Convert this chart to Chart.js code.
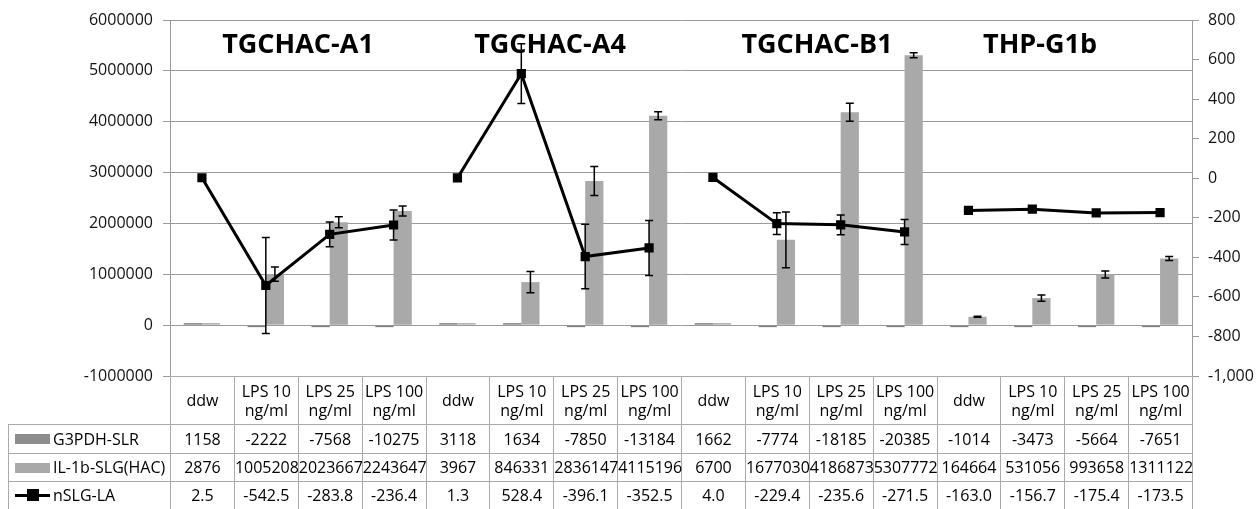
<!DOCTYPE html>
<html>
<head>
<meta charset="utf-8">
<script src="https://cdn.jsdelivr.net/npm/chart.js@4.4.1/dist/chart.umd.min.js"></script>
<style>
  body { margin: 0; background: #fff; }
  #wrap { position: relative; width: 1258px; height: 509px; overflow: hidden; }
  #chart { position: absolute; left: 0; top: 0; }
  #dataTable {
    position: absolute; left: 8px; top: 376px;
    border-collapse: collapse; table-layout: fixed; width: 1184px;
    font: 16px "Open Sans", sans-serif; color: #000;
  }
  #dataTable td {
    border: 1px solid #aaa; text-align: center; white-space: nowrap;
    padding: 0; overflow: visible; line-height: 19px;
  }
  #dataTable td.blank { border: none; border-right: 1px solid #aaa; }
  #dataTable td.name { text-align: left; padding-left: 6px; }
  .sw { display: inline-block; width: 35px; height: 10px; vertical-align: middle; margin-right: 3px; position: relative; top: -1px; }
  .sw.line { height: 3px; background: #000; }
  .sw.line i { position: absolute; left: 12px; top: -5px; width: 12px; height: 12px; background: #000; }
</style>
</head>
<body>
<div id="wrap">
  <canvas id="chart" width="1258" height="509"></canvas>
  <table id="dataTable"></table>
</div>
<script>
/* ===== DATA ===== */
const groups = ["TGCHAC-A1", "TGCHAC-A4", "TGCHAC-B1", "THP-G1b"];
const doses = [["ddw"], ["LPS 10", "ng/ml"], ["LPS 25", "ng/ml"], ["LPS 100", "ng/ml"]];

const g3pdh = [1158, -2222, -7568, -10275, 3118, 1634, -7850, -13184, 1662, -7774, -18185, -20385, -1014, -3473, -5664, -7651];
const il1b = [2876, 1005208, 2023667, 2243647, 3967, 846331, 2836147, 4115196, 6700, 1677030, 4186873, 5307772, 164664, 531056, 993658, 1311122];
const nslg = [2.5, -542.5, -283.8, -236.4, 1.3, 528.4, -396.1, -352.5, 4.0, -229.4, -235.6, -271.5, -163.0, -156.7, -175.4, -173.5];

// error bars
const il1bErr = [0, 140000, 110000, 100000, 0, 207000, 285000, 79000, 0, 550000, 177000, 50000, 10000, 60000, 69000, 40000];
const nslgErr = [0, 243, 63, 76, 0, 151, 163, 139, 0, 55, 50, 63, 0, 0, 0, 0];

const leftTicks = { min: -1000000, max: 6000000, step: 1000000 };
const rightTicks = { min: -1000, max: 800, step: 200 };

const labels = [];
groups.forEach(() => doses.forEach(d => labels.push(d)));

/* ===== PLUGINS ===== */
const titleX = [298, 550, 817, 1040];
const groupTitles = {
  id: "groupTitles",
  beforeDatasetsDraw(chart) {
    const ctx = chart.ctx;
    ctx.save();
    ctx.font = "bold 27px 'Open Sans', sans-serif";
    ctx.fillStyle = "#000";
    ctx.textAlign = "center";
    ctx.textBaseline = "middle";
    groups.forEach((g, i) => ctx.fillText(g, titleX[i], 45));
    ctx.restore();
  }
};

const errorBars = {
  id: "errorBars",
  afterDatasetsDraw(chart) {
    const ctx = chart.ctx;
    chart.data.datasets.forEach((ds, di) => {
      if (!ds.errors) return;
      const meta = chart.getDatasetMeta(di);
      const scale = chart.scales[meta.yAxisID];
      ctx.save();
      ctx.strokeStyle = "#000";
      ctx.lineWidth = 1.5;
      meta.data.forEach((el, i) => {
        const e = ds.errors[i];
        if (!e) return;
        const v = ds.data[i];
        const t = scale.getPixelForValue(v + e);
        const b = scale.getPixelForValue(v - e);
        ctx.beginPath();
        ctx.moveTo(el.x, t); ctx.lineTo(el.x, b);
        ctx.moveTo(el.x - 4, t); ctx.lineTo(el.x + 4, t);
        ctx.moveTo(el.x - 4, b); ctx.lineTo(el.x + 4, b);
        ctx.stroke();
      });
      ctx.restore();
    });
  }
};

/* ===== CHART ===== */
const tickFont = { family: "'Open Sans', sans-serif", size: 16 };
const gridColor = "#9a9a9a";

new Chart(document.getElementById("chart"), {
  type: "bar",
  data: {
    labels,
    datasets: [
      {
        type: "line", label: "nSLG-LA", data: nslg, errors: nslgErr, yAxisID: "y2", order: 0,
        borderColor: "#000", backgroundColor: "#000", borderWidth: 3,
        pointStyle: "rect", pointRadius: 6.5, pointBorderWidth: 0,
        segment: { borderColor: c => (c.p0DataIndex % 4 === 3 ? "transparent" : "#000") }
      },
      {
        label: "G3PDH-SLR", data: g3pdh, yAxisID: "y", order: 1,
        backgroundColor: "#808080", minBarLength: 2,
        categoryPercentage: 0.57, barPercentage: 1
      },
      {
        label: "IL-1b-SLG(HAC)", data: il1b, errors: il1bErr, yAxisID: "y", order: 1,
        backgroundColor: "#a9a9a9", minBarLength: 2,
        categoryPercentage: 0.57, barPercentage: 1
      }
    ]
  },
  options: {
    responsive: false,
    animation: false,
    layout: { padding: { top: 20, bottom: 133, left: 0, right: 0 } },
    plugins: { legend: { display: false }, tooltip: { enabled: false } },
    scales: {
      x: { display: false, offset: true },
      y: {
        position: "left",
        min: leftTicks.min, max: leftTicks.max,
        ticks: { stepSize: leftTicks.step, padding: 10, font: tickFont, color: "#111", callback: v => String(v) },
        grid: { color: gridColor, tickLength: 7 },
        border: { color: gridColor },
        afterFit(s) { s.width = 170; }
      },
      y2: {
        position: "right",
        min: rightTicks.min, max: rightTicks.max,
        ticks: { stepSize: rightTicks.step, padding: 9, font: tickFont, color: "#111",
          callback: v => (v === -1000 ? "-1,000" : String(v)) },
        grid: { drawOnChartArea: false, color: gridColor, tickLength: 7 },
        border: { color: gridColor },
        afterFit(s) { s.width = 66; }
      }
    }
  },
  plugins: [groupTitles, errorBars]
});

/* ===== DATA TABLE ===== */
function buildTable() {
  const t = document.getElementById("dataTable");
  let html = '<colgroup><col style="width:162px">';
  labels.forEach(() => { html += '<col style="width:63.875px">'; });
  html += "</colgroup>";

  html += '<tr style="height:48px"><td class="blank"></td>';
  labels.forEach(l => { html += `<td>${l.join("<br>")}</td>`; });
  html += "</tr>";

  const rows = [
    { name: "G3PDH-SLR", sw: '<span class="sw" style="background:#8c8c8c"></span>', vals: g3pdh.map(String), h: 29 },
    { name: "IL-1b-SLG(HAC)", sw: '<span class="sw" style="background:#a9a9a9"></span>', vals: il1b.map(String), h: 28 },
    { name: "nSLG-LA", sw: '<span class="sw line"><i></i></span>', vals: nslg.map(v => v.toFixed(1)), h: 28 }
  ];
  rows.forEach(r => {
    html += `<tr style="height:${r.h}px"><td class="name">${r.sw}${r.name}</td>`;
    r.vals.forEach(v => { html += `<td>${v}</td>`; });
    html += "</tr>";
  });
  t.innerHTML = html;
}

buildTable();
</script>
</body>
</html>
